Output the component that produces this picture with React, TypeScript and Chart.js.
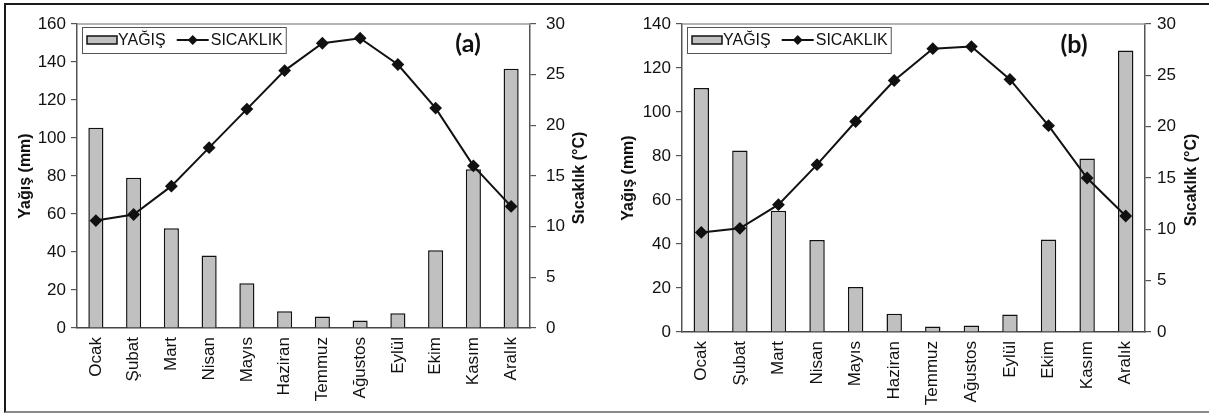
import React, { useEffect, useRef } from 'react';
import { Chart, registerables } from 'chart.js';

Chart.register(...registerables);

// ---------- data ----------
const months = ['Ocak', 'Şubat', 'Mart', 'Nisan', 'Mayıs', 'Haziran', 'Temmuz', 'Ağustos', 'Eylül', 'Ekim', 'Kasım', 'Aralık'];
const rainA = [105.4, 79.1, 52.5, 38.2, 23.5, 8.8, 6.0, 3.9, 7.7, 40.9, 83.5, 136.5];
const tempA = [10.6, 11.2, 14.0, 17.8, 21.6, 25.4, 28.1, 28.6, 26.0, 21.7, 16.0, 12.0];
const rainB = [110.9, 82.5, 55.1, 41.8, 20.4, 8.3, 2.5, 2.9, 7.9, 42.0, 78.9, 128.0];
const tempB = [9.7, 10.1, 12.4, 16.3, 20.5, 24.5, 27.6, 27.8, 24.6, 20.1, 15.0, 11.3];
const rainAxisMax = [160, 140];
const rainAxisStep = 20;
const tempAxisMax = 30;
const tempAxisStep = 5;
const legendLabels = ['YAĞIŞ', 'SICAKLIK'];
const panelTags = ['(a)', '(b)'];
const axisTitles = ['Yağış (mm)', 'Sıcaklık (°C)'];

const FONT = '"Liberation Sans", Arial, sans-serif';

type Geo = {
  width: number;
  leftW: number;
  rightW: number;
  top: number;
  bottomH: number;
  leftTitlePad: number;
  rightTitleX: number;
  rightTickPad: number;
  tagX: number;
  tagY: number;
};

const decorPlugin = {
  id: 'decor',
  afterDatasetsDraw(chart: any, _args: any, opts: any) {
    const { ctx, chartArea: ca } = chart;
    ctx.save();
    // gray top frame line of plot area
    ctx.strokeStyle = '#9a9a9a';
    ctx.lineWidth = 1.5;
    ctx.beginPath();
    ctx.moveTo(ca.left, ca.top);
    ctx.lineTo(ca.right, ca.top);
    ctx.stroke();

    // legend box
    const ds = chart.data.datasets;
    ctx.font = `16px ${FONT}`;
    const t1 = ds[1].label as string; // bar
    const t0 = ds[0].label as string; // line
    const w1 = ctx.measureText(t1).width;
    const w0 = ctx.measureText(t0).width;
    const bx = ca.left + 5;
    const by = ca.top + 3;
    const bh = 26;
    const bw = 5 + 30 + 1 + w1 + 11 + 32 + 2 + w0 + 3;
    ctx.fillStyle = '#ffffff';
    ctx.fillRect(bx, by, bw, bh);
    ctx.strokeStyle = '#555';
    ctx.lineWidth = 1;
    ctx.strokeRect(bx + 0.5, by + 0.5, bw, bh);
    const cy = by + bh / 2;
    // bar swatch
    ctx.fillStyle = '#c0c0c0';
    ctx.fillRect(bx + 5, cy - 4, 30, 8);
    ctx.strokeStyle = '#111';
    ctx.lineWidth = 1.5;
    ctx.strokeRect(bx + 5, cy - 4, 30, 8);
    ctx.fillStyle = '#111';
    ctx.textBaseline = 'middle';
    ctx.textAlign = 'left';
    let x = bx + 36;
    ctx.fillText(t1, x, cy + 1);
    x += w1 + 11;
    // line swatch
    ctx.strokeStyle = '#111';
    ctx.lineWidth = 2;
    ctx.beginPath();
    ctx.moveTo(x, cy);
    ctx.lineTo(x + 32, cy);
    ctx.stroke();
    ctx.beginPath();
    const mx = x + 16;
    ctx.moveTo(mx, cy - 5);
    ctx.lineTo(mx + 5, cy);
    ctx.lineTo(mx, cy + 5);
    ctx.lineTo(mx - 5, cy);
    ctx.closePath();
    ctx.fill();
    x += 34;
    ctx.fillText(t0, x, cy + 1);

    // right axis title, reading bottom to top
    ctx.save();
    ctx.font = `bold 16px ${FONT}`;
    ctx.textAlign = 'center';
    ctx.textBaseline = 'middle';
    ctx.translate(opts.rightTitleX, (ca.top + ca.bottom) / 2 + 2);
    ctx.rotate(-Math.PI / 2);
    ctx.fillText(opts.rightTitle, 0, 0);
    ctx.restore();

    // panel tag
    ctx.font = `bold 25px Lato, "Open Sans", sans-serif`;
    ctx.textAlign = 'center';
    ctx.textBaseline = 'middle';
    ctx.fillText(opts.tag, opts.tagX, opts.tagY);
    ctx.restore();
  },
};

function Panel(props: { rain: number[]; temp: number[]; rainMax: number; tag: string; geo: Geo }) {
  const ref = useRef<HTMLCanvasElement>(null);
  const { rain, temp, rainMax, tag, geo } = props;
  useEffect(() => {
    if (!ref.current) return;
    const tickFont = { family: FONT, size: 17 };
    const titleFont = { family: FONT, size: 16, weight: 'bold' as const };
    const chart = new Chart(ref.current, {
      type: 'bar',
      data: {
        labels: months,
        datasets: [
          {
            type: 'line',
            label: legendLabels[1],
            data: temp,
            yAxisID: 'y1',
            borderColor: '#111',
            backgroundColor: '#111',
            borderWidth: 2,
            pointStyle: 'rectRot',
            pointRadius: 5,
            pointBackgroundColor: '#111',
            pointBorderColor: '#111',
            tension: 0,
            order: 0,
          } as any,
          {
            type: 'bar',
            label: legendLabels[0],
            data: rain,
            yAxisID: 'y',
            backgroundColor: '#c0c0c0',
            borderColor: '#111',
            borderWidth: 1.5,
            barPercentage: 0.4,
            categoryPercentage: 1,
            order: 1,
          } as any,
        ],
      },
      options: {
        responsive: false,
        animation: false,
        layout: { padding: { top: geo.top, left: 0, right: 0, bottom: 0 } },
        plugins: {
          legend: { display: false },
          tooltip: { enabled: false },
          decor: { tag, tagX: geo.tagX, tagY: geo.tagY, rightTitle: axisTitles[1], rightTitleX: geo.rightTitleX },
        } as any,
        scales: {
          x: {
            offset: true,
            grid: { display: false, drawTicks: false },
            border: { display: true, color: '#444', width: 1.5 },
            ticks: {
              autoSkip: false,
              minRotation: 90,
              maxRotation: 90,
              padding: 9,
              color: '#111',
              font: tickFont,
            },
            afterFit: (s: any) => {
              s.height = geo.bottomH;
            },
          },
          y: {
            position: 'left',
            min: 0,
            max: rainMax,
            ticks: { stepSize: rainAxisStep, padding: 5, color: '#111', font: tickFont },
            grid: { drawOnChartArea: false, drawTicks: true, tickLength: 6, color: '#555', lineWidth: 1.2 },
            border: { display: true, color: '#555', width: 1.5 },
            title: { display: true, text: axisTitles[0], color: '#111', font: titleFont, padding: { top: geo.leftTitlePad, bottom: 0 } },
            afterFit: (s: any) => {
              s.width = geo.leftW;
            },
          },
          y1: {
            position: 'right',
            min: 0,
            max: tempAxisMax,
            ticks: { stepSize: tempAxisStep, padding: geo.rightTickPad, color: '#111', font: tickFont },
            grid: { drawOnChartArea: false, drawTicks: true, tickLength: 6, color: '#555', lineWidth: 1.2 },
            border: { display: true, color: '#555', width: 1.5 },
            title: { display: false },
            afterFit: (s: any) => {
              s.width = geo.rightW;
            },
          },
        },
      } as any,
      plugins: [decorPlugin],
    });
    return () => chart.destroy();
  }, [rain, temp, rainMax, tag, geo]);
  return (
    <canvas
      ref={ref}
      width={geo.width}
      height={414}
      style={{ width: geo.width, height: 414, display: 'block' }}
    />
  );
}

const geoA: Geo = { width: 605, leftW: 77, rightW: 75, top: 24, bottomH: 86, leftTitlePad: 16, rightTitleX: 580, rightTickPad: 10, tagX: 468, tagY: 44 };
const geoB: Geo = { width: 604, leftW: 77, rightW: 64, top: 24, bottomH: 82, leftTitlePad: 14, rightTitleX: 587, rightTickPad: 6, tagX: 469, tagY: 45 };

export default function App() {
  return (
    <div style={{ position: 'absolute', left: 0, top: 0, width: 1209, height: 414, background: '#fff', overflow: 'hidden' }}>
      <div
        style={{
          position: 'absolute',
          left: 4,
          top: 3,
          width: 1210,
          height: 410,
          boxSizing: 'border-box',
          borderTop: '2px solid #1a1a1a',
          borderLeft: '2px solid #1a1a1a',
          borderBottom: '2px solid #8a8a8a',
        }}
      />
      <div style={{ position: 'absolute', left: 0, top: 0, display: 'flex' }}>
        <Panel rain={rainA} temp={tempA} rainMax={rainAxisMax[0]} tag={panelTags[0]} geo={geoA} />
        <Panel rain={rainB} temp={tempB} rainMax={rainAxisMax[1]} tag={panelTags[1]} geo={geoB} />
      </div>
    </div>
  );
}
